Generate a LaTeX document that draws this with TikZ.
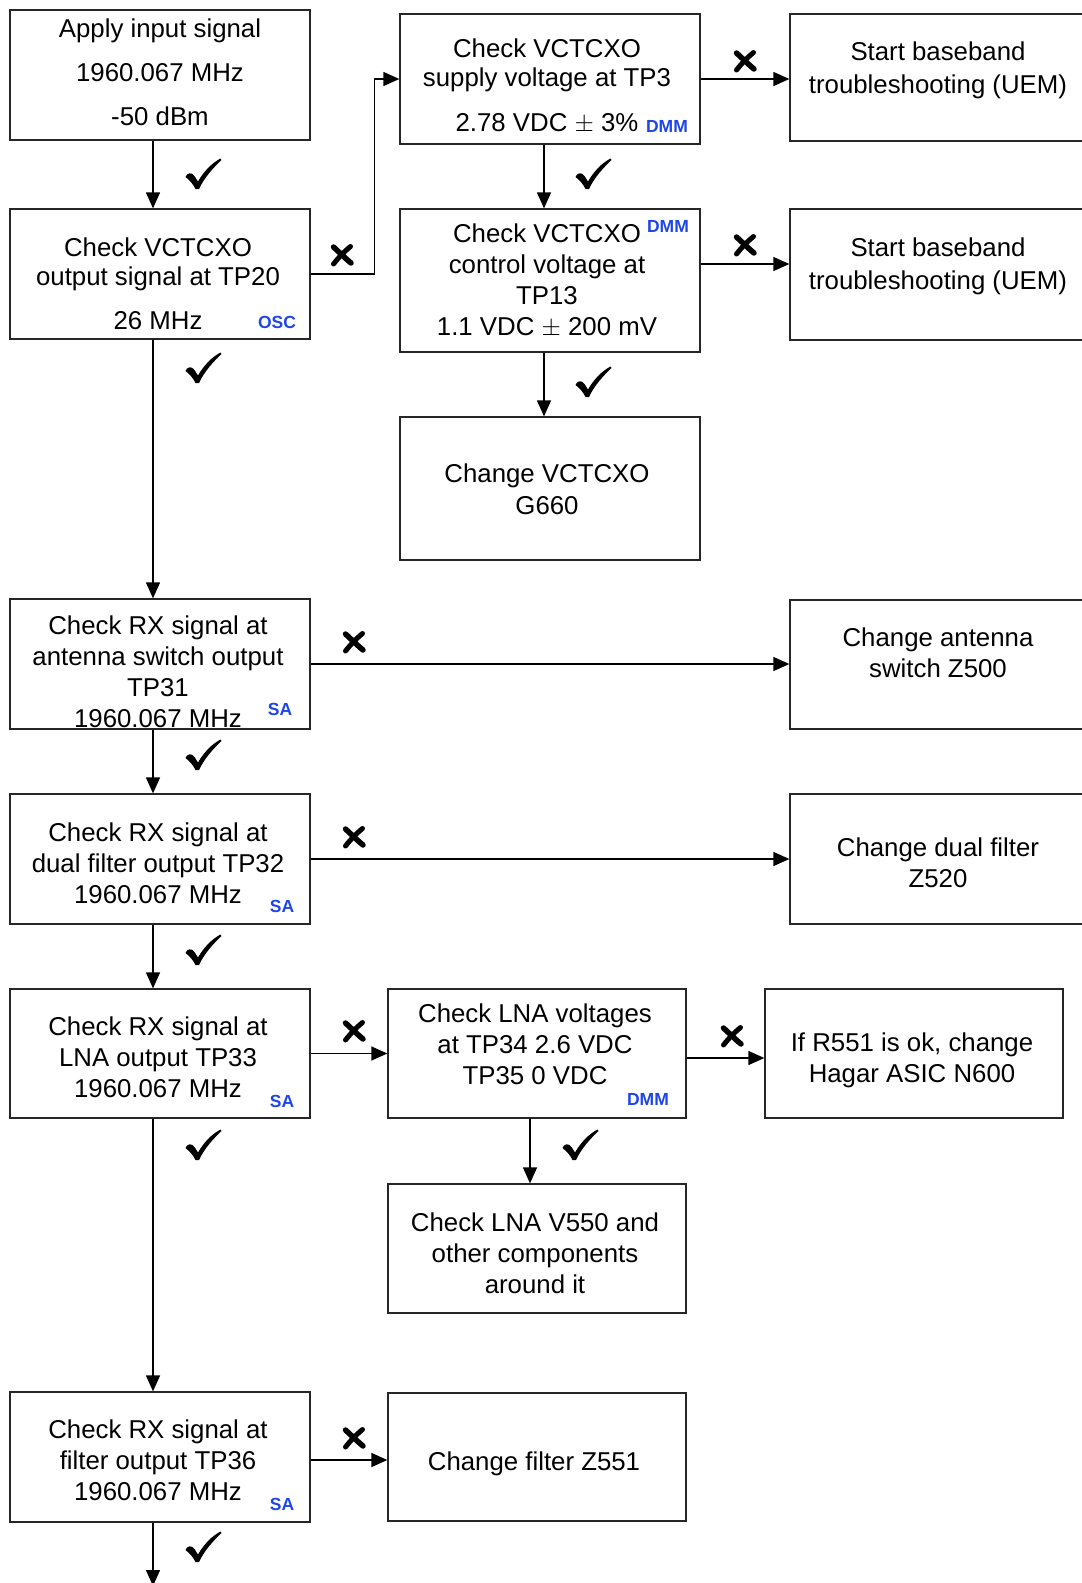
\documentclass[tikz,border=0pt]{standalone}
\usepackage{fontspec}
\setmainfont{Liberation Sans}
\usetikzlibrary{arrows.meta}
\definecolor{meterblue}{RGB}{30,70,230}
% strut: every text line gets the same height and depth
\newcommand\lstrut{\rule[-6.25pt]{0pt}{31pt}}
\begin{document}
\begin{tikzpicture}[x=1pt,y=-1pt,
  box/.style={draw=black!85, line width=1.3pt, inner sep=0pt, minimum width=300pt, minimum height=130pt},
  txt/.style={font=\fontsize{25.8}{31}\selectfont, align=center, inner sep=0pt},
  meter/.style={font=\fontsize{17.5}{18}\selectfont\bfseries, text=meterblue, inner sep=0pt},
  arr/.style={line width=1.3pt, -{Triangle[length=16pt,width=14pt]}},
  tick/.pic={\fill (-17.5,3) .. controls (-16,-1.5) and (-11,-2) .. (-8.5,2)
      -- (-5,7.5) .. controls (1,-3) and (9,-11) .. (17.5,-15.5)
      -- (18.5,-14) .. controls (10,-6) and (1,4) .. (-4,15)
      -- (-7.5,15) .. controls (-10,10) and (-13,6.5) .. (-17.5,3) -- cycle;},
  cross/.pic={\draw[line width=5.5pt, line cap=round] (-8.5,-8) .. controls (-3,-3) and (3,3) .. (9,8);
      \draw[line width=5pt, line cap=round] (8.5,-8.5) .. controls (3,-4) and (-3,2) .. (-8.5,9);}]
\useasboundingbox (0,0) rectangle (1082,1583);

% ---- boxes ----
\node[box] (A) at (160,75) {};
\node[box] (B) at (160,274) {};
\node[box] (C) at (550,79) {};
\node[box, minimum height=143pt] (D) at (550,280.5) {};
\node[box, minimum height=143pt] (G) at (550,488.5) {};
\node[box, minimum width=305pt, minimum height=127pt] (E) at (942.5,77.5) {};
\node[box, minimum width=305pt, minimum height=131pt] (F) at (942.5,274.5) {};
\node[box] (RA) at (160,664) {};
\node[box, minimum width=305pt, minimum height=129pt] (ZA) at (942.5,664.5) {};
\node[box] (DF) at (160,859) {};
\node[box, minimum width=305pt] (ZD) at (942.5,859) {};
\node[box, minimum height=129pt] (LO) at (160,1053.5) {};
\node[box, minimum width=298pt, minimum height=129pt] (LV) at (537,1053.5) {};
\node[box, minimum width=298pt, minimum height=129pt] (RN) at (914,1053.5) {};
\node[box, minimum width=298pt, minimum height=129pt] (VL) at (537,1248.5) {};
\node[box] (FO) at (160,1457) {};
\node[box, minimum width=298pt, minimum height=128pt] (ZF) at (537,1457) {};

% ---- texts ----
\node[txt] (tA) at (160,72) {\lstrut Apply input signal\\[13pt]\lstrut 1960.067 MHz\\[13pt]\lstrut -50 dBm};
\node[txt] (tB) at (158,283.5) {\lstrut Check VCTCXO\\[-2pt]\lstrut output signal at TP20\\[13pt]\lstrut 26 MHz};
\node[meter] (mB) at (277,322) {OSC};
\node[txt] (tC) at (547,85) {\lstrut Check VCTCXO\\[-2pt]\lstrut supply voltage at TP3\\[14pt]\lstrut 2.78 VDC $\pm$ 3\%};
\node[meter] (mC) at (667,126) {DMM};
\node[txt] (tD) at (547,280) {\lstrut Check VCTCXO\\\lstrut control voltage at\\\lstrut TP13\\\lstrut 1.1 VDC $\pm$ 200 mV};
\node[meter] (mD) at (668,226) {DMM};
\node[txt] (tG) at (547,489) {\lstrut Change VCTCXO\\[1pt]\lstrut G660};
\node[txt] (tE) at (938,67.5) {\lstrut Start baseband\\[2pt]\lstrut troubleshooting (UEM)};
\node[txt] (tF) at (938,263.5) {\lstrut Start baseband\\[2pt]\lstrut troubleshooting (UEM)};
\node[txt] (tRA) at (158,671.5) {\lstrut Check RX signal at\\\lstrut antenna switch output\\\lstrut TP31\\\lstrut 1960.067 MHz};
\node[meter] (mRA) at (280,709) {SA};
\node[txt] (tZA) at (938,652.5) {\lstrut Change antenna\\\lstrut switch Z500};
\node[txt] (tDF) at (158,863) {\lstrut Check RX signal at\\\lstrut dual filter output TP32\\\lstrut 1960.067 MHz};
\node[meter] (mDF) at (282,906) {SA};
\node[txt] (tZD) at (938,863) {\lstrut Change dual filter\\\lstrut Z520};
\node[txt] (tLO) at (158,1057) {\lstrut Check RX signal at\\\lstrut LNA output TP33\\\lstrut 1960.067 MHz};
\node[meter] (mLO) at (282,1101) {SA};
\node[txt] (tLV) at (535,1044.5) {\lstrut Check LNA voltages\\\lstrut at TP34 2.6 VDC\\\lstrut TP35 0 VDC};
\node[meter] (mLV) at (648,1099) {DMM};
\node[txt] (tRN) at (912,1058) {\lstrut If R551 is ok, change\\\lstrut Hagar ASIC N600};
\node[txt] (tVL) at (535,1253.5) {\lstrut Check LNA V550 and\\\lstrut other components\\\lstrut around it};
\node[txt] (tFO) at (158,1460.5) {\lstrut Check RX signal at\\\lstrut filter output TP36\\\lstrut 1960.067 MHz};
\node[meter] (mFO) at (282,1504) {SA};
\node[txt] (tZF) at (534,1461) {\lstrut Change filter Z551};

% ---- connectors ----
\coordinate (out) at (153,1586);
\draw[arr] ([xshift=-7pt]A.south) -- ([xshift=-7pt]B.north);
\draw[arr] (B.east) -- ++(64,0) |- (C.west);
\draw[arr] (C.east) -- (C.east -| E.west);
\draw[arr] ([xshift=-6pt]C.south) -- ([xshift=-6pt]D.north);
\draw[arr] ([yshift=16.5pt]D.east) -- ([yshift=16.5pt]D.east -| F.west);
\draw[arr] ([xshift=-6pt]D.south) -- ([xshift=-6pt]G.north);
\draw[arr] ([xshift=-7pt]B.south) -- ([xshift=-7pt]RA.north);
\draw[arr] (RA.east) -- (RA.east -| ZA.west);
\draw[arr] ([xshift=-7pt]RA.south) -- ([xshift=-7pt]DF.north);
\draw[arr] (DF.east) -- (DF.east -| ZD.west);
\draw[arr] ([xshift=-7pt]DF.south) -- ([xshift=-7pt]LO.north);
\draw[arr] (LO.east) -- (LO.east -| LV.west);
\draw[arr] ([yshift=-4.5pt]LV.east) -- ([yshift=-4.5pt]LV.east -| RN.west);
\draw[arr] ([xshift=-7pt]LV.south) -- ([xshift=-7pt]VL.north);
\draw[arr] ([xshift=-7pt]LO.south) -- ([xshift=-7pt]FO.north);
\draw[arr] ([yshift=-3pt]FO.east) -- ([yshift=-3pt]FO.east -| ZF.west);
\draw[arr] ([xshift=-7pt]FO.south) -- (out);

% ---- pass / fail marks ----
\foreach \n/\p in {k1/{203,174}, k2/{203,368}, k3/{593,174}, k4/{593,382},
    k5/{203,755}, k6/{203,950}, k7/{203,1145}, k8/{580,1145}, k9/{203,1547}}
  {\coordinate (\n) at (\p); \pic at (\n) {tick};}
\foreach \n/\p in {x1/{342,255}, x2/{745,61}, x3/{745,245}, x4/{354,642},
    x5/{354,837}, x6/{354,1031}, x7/{732,1036}, x8/{354,1438}}
  {\coordinate (\n) at (\p); \pic at (\n) {cross};}
\end{tikzpicture}
\end{document}
